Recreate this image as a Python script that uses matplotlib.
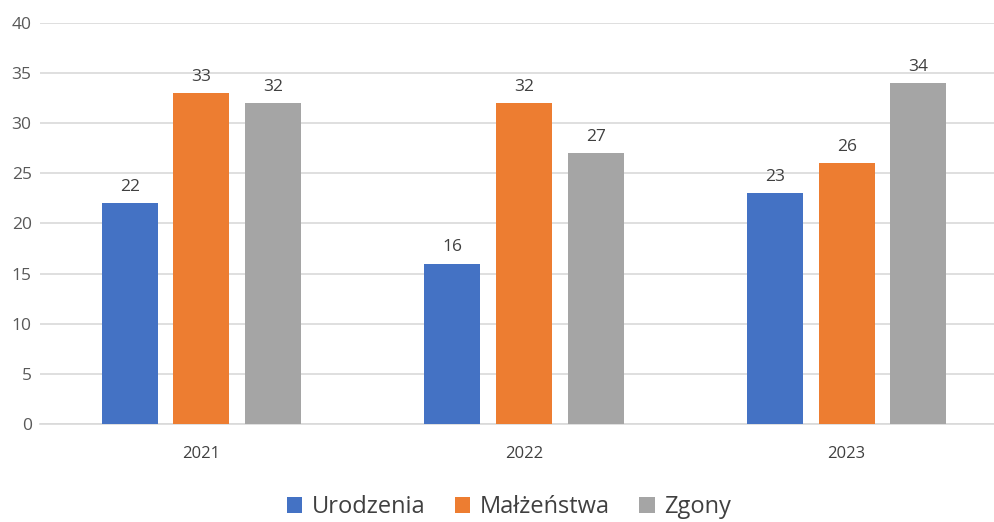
import matplotlib.pyplot as plt
import numpy as np

plt.rcParams['font.family'] = ['Open Sans', 'DejaVu Sans']

years = ["2021", "2022", "2023"]
series = ["Urodzenia", "Małżeństwa", "Zgony"]
urodzenia = [22, 16, 23]
malzenstwa = [33, 32, 26]
zgony = [32, 27, 34]
colors = ["#4472C4", "#ED7D31", "#A5A5A5"]

fig = plt.figure(figsize=(9.95, 5.22), dpi=100)
ax = fig.add_axes([40 / 995, 1 - 424 / 522, 968 / 995, (424 - 23) / 522])

x = np.arange(len(years))
width = 0.174
offsets = [-0.222, 0, 0.222]
for vals, name, c, off in zip([urodzenia, malzenstwa, zgony], series, colors, offsets):
    bars = ax.bar(x + off, vals, width, color=c, label=name, zorder=3)
    ax.bar_label(bars, padding=6, fontsize=12.5, color="#404040")

ax.set_xlim(-0.5, 2.5)
ax.set_ylim(0, 40)
ax.set_yticks(range(0, 41, 5))
ax.set_xticks(x)
ax.set_xticklabels(years)
ax.yaxis.grid(True, color="#D9D9D9", linewidth=1.2, zorder=0)
for s in ["top", "right", "left"]:
    ax.spines[s].set_visible(False)
ax.spines["bottom"].set_color("#D9D9D9")
ax.spines["bottom"].set_linewidth(1.2)
ax.tick_params(axis="y", length=0, labelsize=12.5, labelcolor="#595959", pad=6)
ax.tick_params(axis="x", length=0, labelsize=12, labelcolor="#404040", pad=16)

fig.legend(loc="center", bbox_to_anchor=(509 / 995, 1 - 507 / 522), ncol=3, frameon=False,
           fontsize=17, handlelength=0.65, handleheight=0.65, handletextpad=0.4,
           columnspacing=1.25, labelcolor="#404040")

fig.savefig("out.png", dpi=100)
